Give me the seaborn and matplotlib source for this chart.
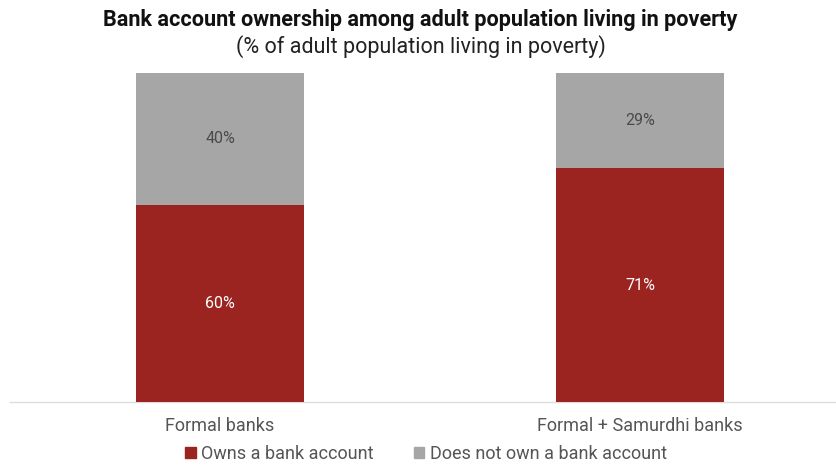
import matplotlib
matplotlib.use("Agg")
import matplotlib.pyplot as plt
import matplotlib.patches as mpatches
import seaborn as sns
import pandas as pd

categories = ["Formal banks", "Formal + Samurdhi banks"]
owns = [60, 71]
not_owns = [40, 29]
series_names = ["Owns a bank account", "Does not own a bank account"]

RED = "#9B2320"
GREY = "#A6A6A6"

sns.set_theme(style="white")
plt.rcParams["font.family"] = ["Roboto", "DejaVu Sans"]

df = pd.DataFrame({"category": categories, "owns": owns, "not_owns": not_owns})
df["total"] = df["owns"] + df["not_owns"]

W, H = 836, 465
fig = plt.figure(figsize=(W / 100, H / 100), dpi=100)
ax = fig.add_axes([10 / W, (H - 402) / H, (W - 10) / W, (402 - 73) / H])

# stacked bars: full-height grey underneath, red share on top of it
sns.barplot(data=df, x="category", y="total", color=GREY, width=0.4,
            saturation=1, linewidth=0, ax=ax, zorder=2)
sns.barplot(data=df, x="category", y="owns", color=RED, width=0.4,
            saturation=1, linewidth=0, ax=ax, zorder=3)

red_bars = ax.patches[len(categories):]

for bar, v_own, v_not in zip(red_bars, owns, not_owns):
    x = bar.get_x() + bar.get_width() / 2
    ax.text(x, v_own / 2, f"{v_own}%", ha="center", va="center",
            color="white", fontsize=11.5, zorder=4)
    ax.text(x, v_own + v_not / 2, f"{v_not}%", ha="center", va="center",
            color="#4A4A4A", fontsize=11.5, zorder=4)

ax.set_ylim(0, 100)
ax.set_xlim(-0.5, 1 + 196 / 420)
ax.set_xlabel("")
ax.set_ylabel("")
ax.set_yticks([])
ax.tick_params(axis="x", length=0, pad=11, labelsize=13, labelcolor="#555555")
for side in ["top", "left", "right"]:
    ax.spines[side].set_visible(False)
ax.spines["bottom"].set_color("#DDDDDD")
ax.spines["bottom"].set_linewidth(1)

fig.text(0.503, 1 - 20 / H, "Bank account ownership among adult population living in poverty",
         ha="center", va="center", fontsize=15.6, fontweight="bold", color="#111111")
fig.text(0.503, 1 - 47 / H, "(% of adult population living in poverty)",
         ha="center", va="center", fontsize=15.5, color="#222222")

handles = [mpatches.Patch(color=RED, label=series_names[0]),
           mpatches.Patch(color=GREY, label=series_names[1])]
fig.legend(handles=handles, loc="center", bbox_to_anchor=(426 / W, 1 - 454 / H),
           ncol=2, frameon=False, fontsize=13, handlelength=0.6, handleheight=0.6,
           handletextpad=0.3, columnspacing=2.2, labelcolor="#555555")

fig.savefig("out.png", dpi=100)
